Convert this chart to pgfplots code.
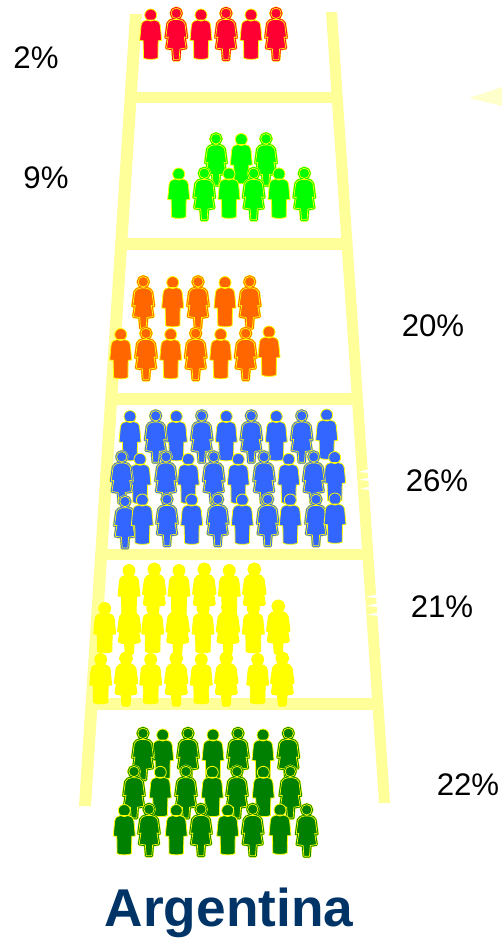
\documentclass[border=0pt]{standalone}
\usepackage{pgfplots}
\usepackage{fontspec}
\setmainfont{Liberation Sans}
\pgfplotsset{compat=1.18}
\definecolor{ladder}{HTML}{FFFF99}
\definecolor{wedge}{HTML}{FFFFCC}
\definecolor{navy}{HTML}{003366}
\definecolor{outl}{HTML}{FFFF00}
\tikzset{lbl/.style={font=\fontsize{15.6}{18}\selectfont,inner sep=0pt}}
\newcommand\manpath{(-3,14.6) .. controls (-6,14) and (-9,13.5) .. (-9.6,9) -- (-11,-6) -- (-7.5,-6.3) -- (-7.2,-23.5) .. controls (-6,-25.3) and (6,-25.3) .. (7.2,-23.5) -- (7.5,-6.3) -- (11,-6) -- (9.6,9) .. controls (9,13.5) and (6,14) .. (3,14.6) -- cycle (0,19.5) circle (6)}
\newcommand\womanpath{(-2.5,15) .. controls (-5,14.5) and (-8,13.5) .. (-8.6,11) -- (-10.5,-3) -- (-8,-2.5) -- (-9.8,-13.5) -- (-3.6,-14.5) -- (-2.8,-25.3) -- (2.8,-25.3) -- (3.6,-14.5) -- (9.8,-13.5) -- (8,-2.5) -- (10.5,-3) -- (8.6,11) .. controls (8,13.5) and (5,14.5) .. (2.5,15) -- cycle (0,21.2) circle (5.2)}
\newcommand\defpeople[2]{%
  \pgfdeclareplotmark{man#1}{%
    \begin{scope}[x=0.5pt,y=0.5pt]
      \fill[#2,draw=outl,line width=0.4pt] \manpath;
    \end{scope}}%
  \pgfdeclareplotmark{woman#1}{%
    \begin{scope}[x=0.5pt,y=0.5pt,line join=round]
      \draw[outl,line width=1.7pt] \womanpath;
      \draw[#2,line width=1.25pt] \womanpath;
      \fill[#2,draw=outl,line width=0.35pt] \womanpath;
    \end{scope}}%
}
\definecolor{cred}{HTML}{FF0033}
\definecolor{clime}{HTML}{00FF00}
\definecolor{corange}{HTML}{FF6600}
\definecolor{cblue}{HTML}{3366FF}
\definecolor{cyel}{HTML}{FFFF00}
\definecolor{cgreen}{HTML}{008000}
\defpeople{red}{cred}
\defpeople{lime}{clime}
\defpeople{orange}{corange}
\defpeople{blue}{cblue}
\defpeople{yel}{cyel}
\defpeople{green}{cgreen}
\begin{document}
\begin{tikzpicture}
\begin{axis}[
  scale only axis, width=251pt, height=469pt,
  xmin=0, xmax=502, ymin=0, ymax=938, y dir=reverse,
  axis lines=none, clip=true,
  every axis plot/.append style={forget plot},
]
\path (axis cs:0,0) rectangle (axis cs:502,938);
% ladder
\addplot[fill=ladder,draw=none] coordinates {(130,14)(142,14)(91,806)(79,806)} --cycle;
\addplot[fill=ladder,draw=none] coordinates {(326,12)(337,12)(390,803)(379,803)} --cycle;
\addplot[fill=ladder,draw=none] coordinates {(134,92)(332,92)(332,103)(134,103)} --cycle;
\addplot[fill=ladder,draw=none] coordinates {(124,238)(342,238)(342,250)(124,250)} --cycle;
\addplot[fill=ladder,draw=none] coordinates {(114,393)(352,393)(352,405)(114,405)} --cycle;
\addplot[fill=ladder,draw=none] coordinates {(104,549)(364,549)(364,560)(104,560)} --cycle;
\addplot[fill=ladder,draw=none] coordinates {(94,698)(374,698)(374,710)(94,710)} --cycle;
\addplot[fill=wedge,draw=none] coordinates {(469,98)(502,87)(502,106)} --cycle;
\addplot[fill=white,draw=none] coordinates {(358,472)(370,469)(370,473)} --cycle;
\addplot[fill=white,draw=none] coordinates {(359,480)(371,477)(371,481)} --cycle;
\addplot[fill=white,draw=none] coordinates {(360,489)(372,486)(372,490)} --cycle;
\addplot[fill=white,draw=none] coordinates {(365,597)(378,594)(378,598)} --cycle;
\addplot[fill=white,draw=none] coordinates {(366,606)(379,603)(379,607)} --cycle;
\addplot[fill=white,draw=none] coordinates {(367,615)(380,612)(380,616)} --cycle;
% people
\addplot[only marks,mark=manred] coordinates {(150.7,34.5)(201,34.5)(251,34.5)};
\addplot[only marks,mark=womanred] coordinates {(176.3,34.5)(226,34.5)(276,34.5)};
\addplot[only marks,mark=manlime] coordinates {(241.3,159)};
\addplot[only marks,mark=womanlime] coordinates {(216,160)(266,160)};
\addplot[only marks,mark=manlime] coordinates {(178.7,193.5)(229,193.5)(279,193.5)};
\addplot[only marks,mark=womanlime] coordinates {(204.3,194.5)(253.7,194.5)(304.3,194.5)};
\addplot[only marks,mark=manorange] coordinates {(172.7,302)(225,302)};
\addplot[only marks,mark=womanorange] coordinates {(143.3,303)(198,303)(249.7,303)};
\addplot[only marks,mark=manorange] coordinates {(120.7,354)(170.7,354)(220.7,354)(269,351.5)};
\addplot[only marks,mark=womanorange] coordinates {(146,354.5)(195.7,354.5)(245.7,354.5)};
\addplot[only marks,mark=manblue] coordinates {(130,436)(176.3,436)(226.3,436)(276.3,436)(326.7,434.5)};
\addplot[only marks,mark=womanblue] coordinates {(155.7,437)(201.7,437)(251.3,437)(301.7,437)};
\addplot[only marks,mark=manblue] coordinates {(140,478.8)(188.3,478.8)(238.3,478.8)(288.7,478.8)(334.7,477)};
\addplot[only marks,mark=womanblue] coordinates {(121.7,478)(166,478)(213.7,478)(264,478)(313.7,478)};
\addplot[only marks,mark=womanblue] coordinates {(125,522.7)(167,520.5)(217.7,520.5)(267.7,520.5)(316,520.5)};
\addplot[only marks,mark=manblue] coordinates {(142.3,519.5)(191.7,519.5)(242.3,519.5)(290.3,519.5)(335,518.5)};
\addplot[only marks,mark=manyel] coordinates {(129,590)(179,590)(229.3,590)};
\addplot[only marks,mark=womanyel] coordinates {(154.3,590.5)(204.3,590.5)(254.3,590.5)};
\addplot[only marks,mark=manyel] coordinates {(104.7,628)(152.7,628)(203,628)(253.3,628)};
\addplot[only marks,mark=womanyel] coordinates {(129.3,628)(177.7,628)(228,628)(278.3,627.5)};
\addplot[only marks,mark=manyel] coordinates {(100.7,679)(150.7,679)(201.3,679)(257.7,679)};
\addplot[only marks,mark=womanyel] coordinates {(126,679.5)(176.3,679.5)(226.3,679.5)(282.3,679.5)};
\addplot[only marks,mark=mangreen] coordinates {(162.7,754.5)(213,754.5)(263,754.5)};
\addplot[only marks,mark=womangreen] coordinates {(143,754.5)(188,754.5)(238,754.5)(288.3,754.5)};
\addplot[only marks,mark=mangreen] coordinates {(160.3,791.8)(212.3,791.8)(263.3,791.8)};
\addplot[only marks,mark=womangreen] coordinates {(134,792.7)(186,792.7)(237,792.7)(290.3,792.7)};
\addplot[only marks,mark=mangreen] coordinates {(124.3,830)(176.3,830)(227.7,830)(280,829.5)};
\addplot[only marks,mark=womangreen] coordinates {(149,830.5)(201,830.5)(252.7,830.5)(306.7,831)};
% labels
\node[lbl] at (axis cs:36,58) {2\%};
\node[lbl] at (axis cs:46,178) {9\%};
\node[lbl] at (axis cs:433,326) {20\%};
\node[lbl] at (axis cs:437,481) {26\%};
\node[lbl] at (axis cs:442,607) {21\%};
\node[lbl] at (axis cs:468,785) {22\%};
\node[font=\fontsize{26.6}{30}\selectfont\bfseries,text=navy,inner sep=0pt] at (axis cs:229,913) {Argentina};
\end{axis}
\end{tikzpicture}
\end{document}
